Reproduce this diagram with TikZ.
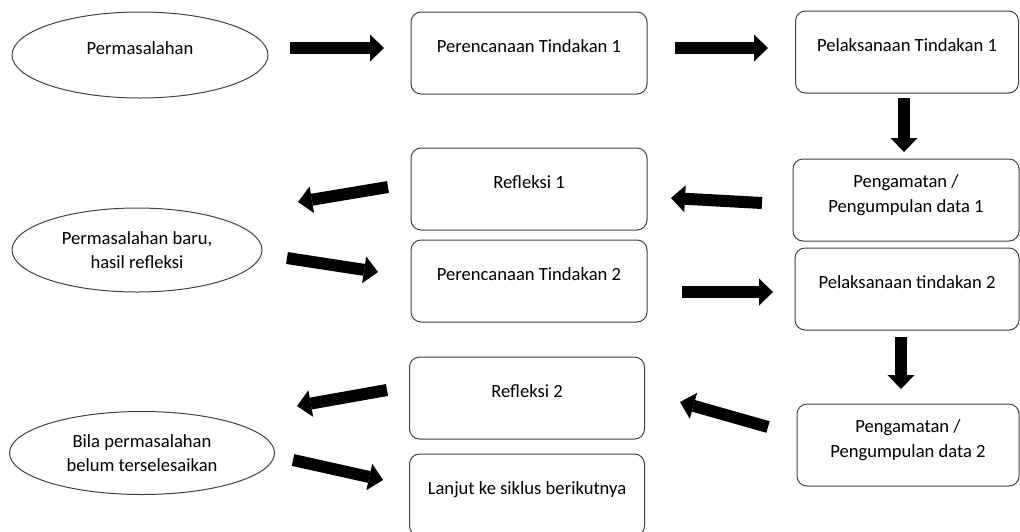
\documentclass[tikz,border=0pt]{standalone}
\usepackage{fontspec}
\setmainfont{Carlito}
\usetikzlibrary{arrows.meta,shapes.geometric}

\begin{document}
\begin{tikzpicture}[x=1pt, y=-1pt,
  box/.style={draw=black!75, line width=1pt, rounded corners=10pt, minimum width=236pt, minimum height=82pt, align=center, font=\fontsize{18.6}{24.5}\selectfont, execute at end node={\rule[-13pt]{0pt}{0pt}}},
  oval/.style={draw=black!75, line width=1pt, ellipse, inner sep=0pt, align=center, font=\fontsize{18.6}{24}\selectfont},
  bigarrow/.style={line width=12pt, -{Triangle[length=14pt, width=27pt, line width=0pt]}}]

\useasboundingbox (0,0) rectangle (1020,531);

\node[oval, minimum width=256pt, minimum height=86pt, execute at end node={\rule[-14pt]{0pt}{0pt}}] (perm) at (140,55) {Permasalahan};
\node[box] (rencana1) at (529,53) {Perencanaan Tindakan 1};
\node[box, minimum width=223pt] (laksana1) at (907,52) {Pelaksanaan Tindakan 1};

\node[box, minimum width=226pt] (amat1) at (906,200) {Pengamatan /\\Pengumpulan data 1};
\node[box] (refleksi1) at (529,189) {Refleksi 1};

\node[oval, minimum width=250pt, minimum height=84pt] (baru) at (137,250) {Permasalahan baru,\\hasil refleksi};
\node[box] (rencana2) at (529,281) {Perencanaan Tindakan 2};
\node[box, minimum width=224pt] (laksana2) at (907,289) {Pelaksanaan tindakan 2};

\node[box, minimum width=222pt] (amat2) at (908,445) {Pengamatan /\\Pengumpulan data 2};
\node[box, minimum width=235pt] (refleksi2) at (527,398) {Refleksi 2};

\node[oval, minimum width=265pt, minimum height=83pt] (bila) at (142,453) {Bila permasalahan\\belum terselesaikan};
\node[box, minimum width=235pt] (lanjut) at (527,495) {Lanjut ke siklus berikutnya};

\coordinate (p1a) at (290,48);  \coordinate (p1b) at (384,48);
\coordinate (p2a) at (675,48);  \coordinate (p2b) at (768,48);
\coordinate (p3a) at (904,98);  \coordinate (p3b) at (904,152);
\coordinate (p4a) at (762,203); \coordinate (p4b) at (671,198);
\coordinate (p5a) at (388,187); \coordinate (p5b) at (298,202);
\coordinate (p6a) at (287,258); \coordinate (p6b) at (378,272);
\coordinate (p7a) at (682,292); \coordinate (p7b) at (773,292);
\coordinate (p8a) at (901,337); \coordinate (p8b) at (901,389);
\coordinate (p9a) at (768,427); \coordinate (p9b) at (680,402);
\coordinate (p10a) at (387,390); \coordinate (p10b) at (297,406);
\coordinate (p11a) at (293,460); \coordinate (p11b) at (383,480);

\foreach \i in {1,...,11}
  \draw[bigarrow] (p\i a) -- (p\i b);

\end{tikzpicture}
\end{document}
